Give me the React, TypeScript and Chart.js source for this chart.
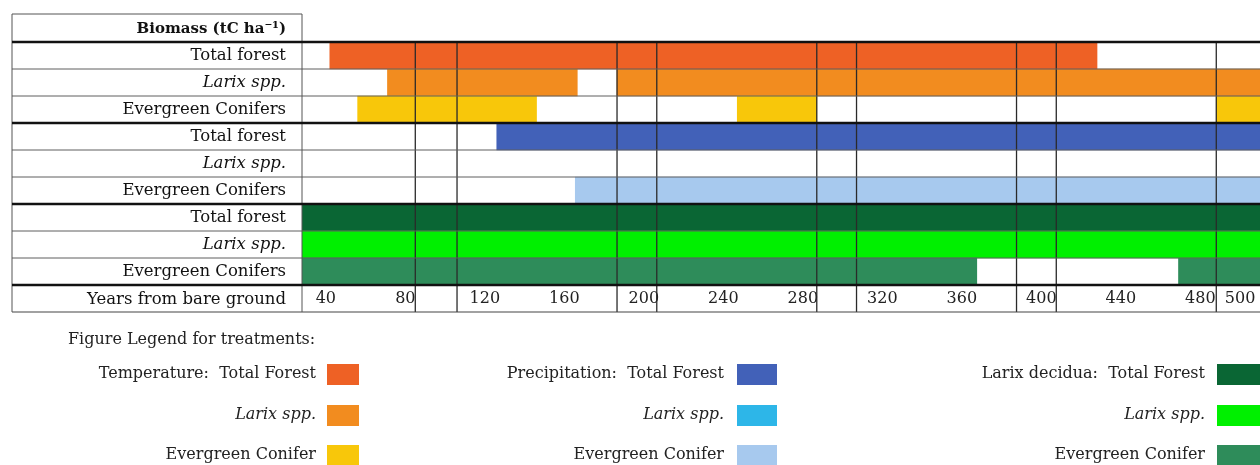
import React, { useEffect, useRef } from 'react';
import { Chart, registerables } from 'chart.js';

Chart.register(...registerables);

// ---------- data ----------
const rowLabels = [
  'Total forest', 'Larix spp.', 'Evergreen Conifers',
  'Total forest', 'Larix spp.', 'Evergreen Conifers',
  'Total forest', 'Larix spp.', 'Evergreen Conifers',
];
const italicLabel = 'Larix spp.';
const treatmentNames = ['Temperature', 'Precipitation', 'Larix decidua'];
const legendItemLabels = ['Total Forest', 'Larix spp.', 'Evergreen Conifer'];
const yearTicks = [40, 80, 120, 160, 200, 240, 280, 320, 360, 400, 440, 480, 500];
const columnBreaks = [85, 106, 186.5, 206.5, 287, 307, 387.5, 407.5, 488];
const yearMin = 28;
const yearMax = 510;

// year spans (start, end) with a marked biomass response, per row
const tempTotal = [[42, 428]];
const tempLarix = [[71, 166.5], [186.5, 510]];
const tempEvergreen = [[56, 146], [247, 287], [488, 510]];
const precipTotal = [[126, 510]];
const precipLarix: number[][] = [];
const precipEvergreen = [[165.5, 510]];
const deciduaTotal = [[28, 510]];
const deciduaLarix = [[28, 510]];
const deciduaEvergreen = [[28, 367.5], [469, 510]];

const tempColors = ['#EE6125', '#F28C1F', '#F8C70A'];
const precipColors = ['#4261B8', '#2DB6E8', '#A7C9EE'];
const deciduaColors = ['#0A6634', '#00F000', '#2E8C5A'];

const FONT = "'DejaVu Serif', serif";

const rowSpans = [
  tempTotal, tempLarix, tempEvergreen,
  precipTotal, precipLarix, precipEvergreen,
  deciduaTotal, deciduaLarix, deciduaEvergreen,
];
const groupColors = [tempColors, precipColors, deciduaColors];
const rowColors = [...tempColors, ...precipColors, ...deciduaColors];

const tablePlugin = {
  id: 'tableFrame',
  afterDatasetsDraw(chart: any) {
    const { ctx, chartArea: ca, scales } = chart;
    const xs = scales.x;
    const n = rowLabels.length;
    const rowH = (ca.bottom - ca.top) / n;
    const tableLeft = 12;
    const headerTop = 14;
    const yearsBottom = ca.bottom + rowH;
    const line = (x1: number, y1: number, x2: number, y2: number) => {
      ctx.beginPath();
      ctx.moveTo(x1, y1);
      ctx.lineTo(x2, y2);
      ctx.stroke();
    };
    ctx.save();
    // column separators
    ctx.strokeStyle = '#2a2a2a';
    ctx.lineWidth = 1.3;
    columnBreaks.forEach((v) => {
      const px = xs.getPixelForValue(v);
      line(px, ca.top, px, yearsBottom);
    });
    // thin row separators
    ctx.strokeStyle = '#5e5e5e';
    ctx.lineWidth = 1;
    for (let i = 1; i < n; i++) {
      if (i % 3 === 0) continue;
      const y = ca.top + i * rowH;
      line(tableLeft, y, ca.right, y);
    }
    // bottom of years row
    ctx.strokeStyle = '#444';
    ctx.lineWidth = 1.2;
    line(tableLeft, yearsBottom, ca.right, yearsBottom);
    // left border and label divider
    ctx.strokeStyle = '#555';
    ctx.lineWidth = 1;
    line(tableLeft, headerTop, tableLeft, yearsBottom);
    line(ca.left, headerTop, ca.left, yearsBottom);
    line(tableLeft, headerTop, ca.left, headerTop);
    // thick group lines
    ctx.strokeStyle = '#111';
    ctx.lineWidth = 2.6;
    for (let i = 0; i <= n; i += 3) {
      const y = ca.top + i * rowH;
      line(tableLeft, y, ca.right, y);
    }
    // header and footer labels
    ctx.fillStyle = '#111';
    ctx.textAlign = 'right';
    ctx.textBaseline = 'middle';
    ctx.font = `bold 15px ${FONT}`;
    ctx.fillText('Biomass (tC ha\u207B\u00B9)', ca.left - 16, (headerTop + ca.top) / 2 + 1);
    ctx.font = `16.5px ${FONT}`;
    ctx.fillText('Years from bare ground', ca.left - 16, ca.bottom + rowH / 2 + 1);

    // legend
    ctx.fillStyle = '#222';
    ctx.textAlign = 'left';
    ctx.font = `16px ${FONT}`;
    ctx.fillText('Figure Legend for treatments:', 68, 340);
    const textRight = [316, 724, 1205];
    const swX = [327, 737, 1217];
    const swW = [32, 40, 43];
    const itemY = [374, 415, 455];
    treatmentNames.forEach((tName, g) => {
      legendItemLabels.forEach((lab, k) => {
        const txt = k === 0 ? `${tName}:  ${lab}` : lab;
        ctx.font = `${lab === italicLabel ? 'italic ' : ''}16px ${FONT}`;
        ctx.textAlign = 'right';
        ctx.fillStyle = '#222';
        ctx.fillText(txt, textRight[g], itemY[k]);
        ctx.fillStyle = groupColors[g][k];
        ctx.fillRect(swX[g], itemY[k] - 10, swW[g], 21);
      });
    });
    ctx.restore();
  },
};

export default function App() {
  const ref = useRef<HTMLCanvasElement | null>(null);
  useEffect(() => {
    if (!ref.current) return;
    const maxSeg = Math.max(...rowSpans.map((s) => s.length));
    const datasets = [] as any[];
    for (let k = 0; k < maxSeg; k++) {
      datasets.push({
        label: `segment ${k + 1}`,
        data: rowSpans.map((s) => (s[k] ? [s[k][0], s[k][1]] : null)),
        backgroundColor: rowColors,
        borderWidth: 0,
        borderSkipped: false,
        grouped: false,
        barPercentage: 1,
        categoryPercentage: 1,
      });
    }
    const chart = new Chart(ref.current, {
      type: 'bar',
      data: { labels: rowLabels, datasets },
      options: {
        indexAxis: 'y',
        responsive: false,
        animation: false,
        devicePixelRatio: 1,
        layout: { padding: { left: 12, top: 42, right: 0, bottom: 153 } },
        plugins: { legend: { display: false }, tooltip: { enabled: false } },
        scales: {
          x: {
            type: 'linear',
            min: yearMin,
            max: yearMax,
            position: 'bottom',
            grid: { display: false, drawTicks: false },
            border: { display: false },
            afterBuildTicks: (s: any) => {
              s.ticks = yearTicks.map((v) => ({ value: v }));
            },
            afterFit: (s: any) => {
              s.height = 27;
            },
            ticks: {
              autoSkip: false,
              maxRotation: 0,
              minRotation: 0,
              padding: 4,
              color: '#222',
              font: { family: FONT, size: 16 },
              callback: (v: any) => String(v),
            },
          },
          y: {
            type: 'category',
            grid: { display: false, drawTicks: false },
            border: { display: false },
            afterFit: (s: any) => {
              s.width = 290;
            },
            ticks: {
              padding: 16,
              color: '#111',
              autoSkip: false,
              font: (c: any) => ({
                family: FONT,
                size: 16.5,
                style: rowLabels[c.index] === italicLabel ? 'italic' : 'normal',
              }),
            },
          },
        },
      },
      plugins: [tablePlugin],
    } as any);
    return () => chart.destroy();
  }, []);
  return (
    <div style={{ position: 'absolute', left: 0, top: 0, width: 1260, height: 465, background: '#fff' }}>
      <canvas ref={ref} width={1260} height={465} style={{ width: 1260, height: 465, display: 'block' }} />
    </div>
  );
}
